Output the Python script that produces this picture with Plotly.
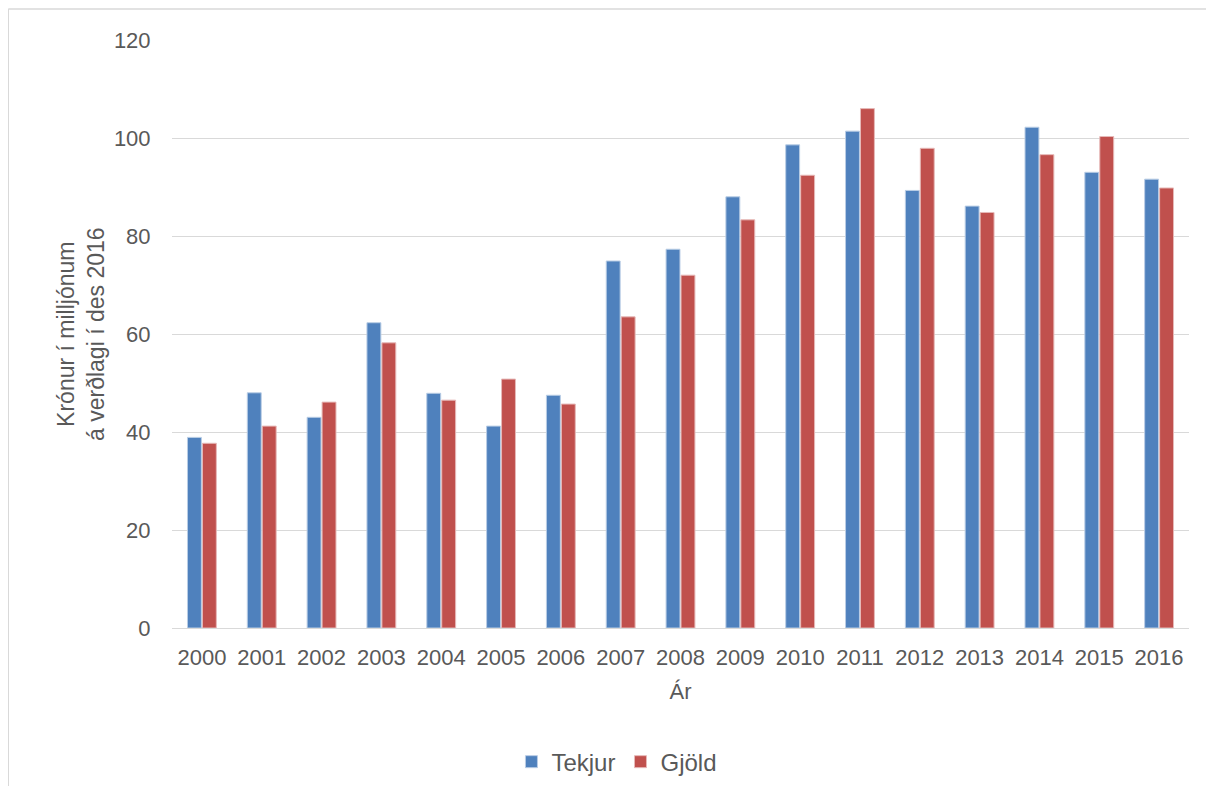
import plotly.graph_objects as go

# ár og upphæðir (milljónir kr., verðlag des 2016)
years = [str(y) for y in range(2000, 2017)]
tekjur = [38.9, 48.0, 43.0, 62.3, 47.9, 41.2, 47.5, 74.9, 77.3, 88.0,
          98.6, 101.4, 89.3, 86.1, 102.2, 93.0, 91.6]
gjold = [37.7, 41.2, 46.1, 58.2, 46.5, 50.8, 45.7, 63.5, 72.0, 83.3,
         92.4, 106.0, 97.9, 84.8, 96.6, 100.3, 89.8]
y_ticks = [0, 20, 40, 60, 80, 100, 120]

fig = go.Figure()
fig.add_trace(go.Bar(x=years, y=tekjur, name="Tekjur",
                     marker=dict(color="#4F81BD", line=dict(color="#B9CDE5", width=1))))
fig.add_trace(go.Bar(x=years, y=gjold, name="Gjöld",
                     marker=dict(color="#C0504D", line=dict(color="#E6B9B8", width=1))))

fig.update_layout(
    width=1198, height=778,
    margin=dict(l=164, r=17, t=32, b=158, autoexpand=False),
    paper_bgcolor="white", plot_bgcolor="white",
    font=dict(family="Liberation Sans, Arial", color="#595959", size=23),
    barmode="group", bargap=0.5, bargroupgap=0.07,
    legend=dict(orientation="h", x=0.4375, xanchor="center", y=-0.228, yanchor="middle",
                font=dict(size=24), itemwidth=30, traceorder="normal"),
    showlegend=True,
)
fig.update_xaxes(title_text="Ár", title_font=dict(size=22), title_standoff=14,
                 showline=True, linecolor="#D9D9D9", linewidth=1,
                 ticks="outside", ticklen=10, tickcolor="rgba(0,0,0,0)",
                 tickangle=0, tickfont=dict(size=22))
fig.update_yaxes(range=[0, 120], tickvals=y_ticks, gridcolor="#D9D9D9", gridwidth=1,
                 zeroline=False, tickfont=dict(size=22),
                 ticks="outside", ticklen=16, tickcolor="rgba(0,0,0,0)")

# titill y-áss
fig.add_annotation(text="Krónur í milljónum<br>á verðlagi í des 2016",
                   xref="paper", yref="paper", x=-0.0895, y=0.5,
                   xanchor="center", yanchor="middle", textangle=-90,
                   showarrow=False, font=dict(size=23, color="#595959"))

# ytri rammi (efri og vinstri brún)
fig.add_shape(type="line", xref="paper", yref="paper",
              x0=-0.161, x1=1.2, y0=1.0527, y1=1.0527,
              line=dict(color="#D9D9D9", width=1.5))
fig.add_shape(type="line", xref="paper", yref="paper",
              x0=-0.161, x1=-0.161, y0=-0.4, y1=1.0527,
              line=dict(color="#D9D9D9", width=1.5))

fig.write_html("out.html")
